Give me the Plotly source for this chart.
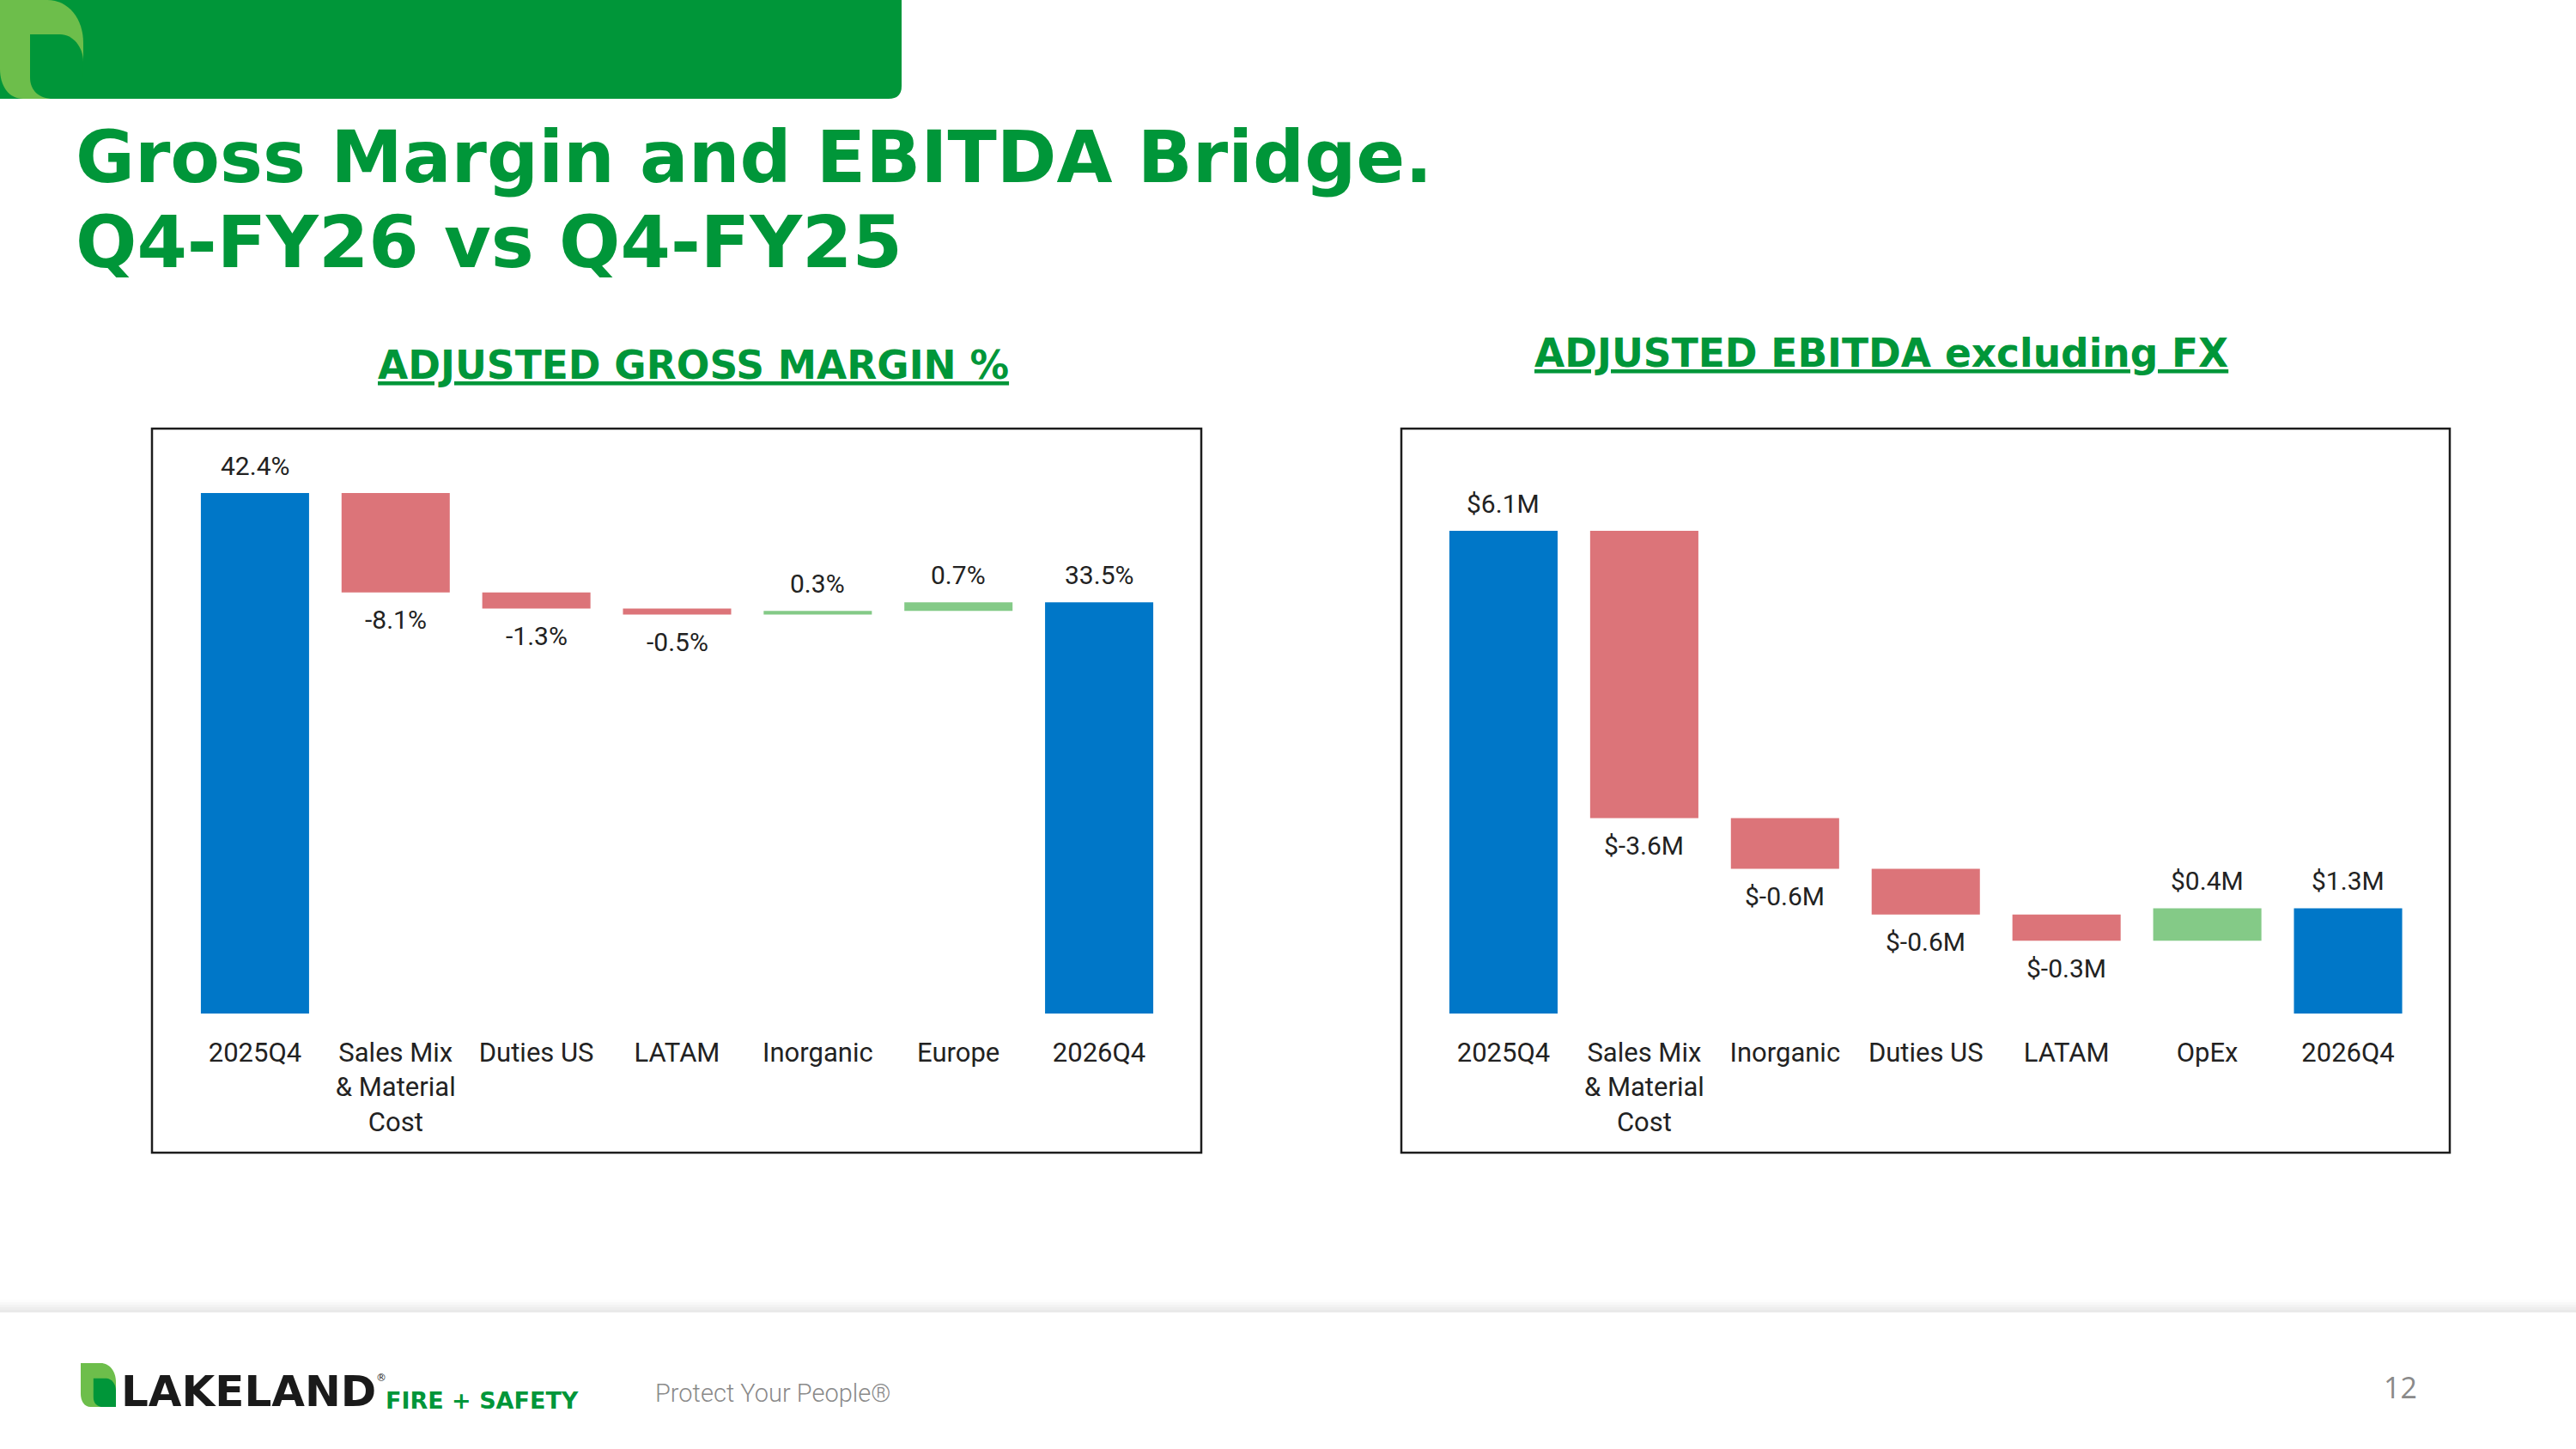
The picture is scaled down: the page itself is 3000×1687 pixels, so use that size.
import plotly.graph_objects as go

W, H = 3000, 1687

# ---------------- data ----------------
gm_categories = ["2025Q4", "Sales Mix<br>& Material<br>Cost", "Duties US", "LATAM",
                 "Inorganic", "Europe", "2026Q4"]
gm_measures = ["absolute", "relative", "relative", "relative", "relative", "relative", "total"]
gm_values = [42.4, -8.1, -1.3, -0.5, 0.3, 0.7, 0]

eb_categories = ["2025Q4", "Sales Mix<br>& Material<br>Cost", "Inorganic", "Duties US",
                 "LATAM", "OpEx", "2026Q4"]
eb_measures = ["absolute", "relative", "relative", "relative", "relative", "relative", "total"]
eb_values = [6.1, -3.63, -0.64, -0.58, -0.33, 0.41, 0]

BLUE = "#0077C8"
RED = "#DC7479"
GREEN = "#84CA87"
BRAND = "#009639"
LEAF = "#6DBE4B"
TXT = "#222222"
LABEL_FONT = "Roboto"


def px(x, y):
    return x / W, 1 - y / H


def path(cmds, sx=1.0, sy=1.0, ox=0.0, oy=0.0):
    out = []
    for c, pts in cmds:
        coords = []
        for (x, y) in pts:
            X, Y = px(ox + x * sx, oy + y * sy)
            coords.append(f"{X:.6f},{Y:.6f}")
        out.append(c + " " + " ".join(coords))
    return " ".join(out) + " Z"


def bar_ends(measures, values):
    run = 0.0
    res = []
    for m, v in zip(measures, values):
        if m == "absolute":
            s, e, lab = 0.0, v, v
            run = v
        elif m == "total":
            s, e, lab = 0.0, run, run
        else:
            s, e, lab = run, run + v, v
            run += v
        res.append((s, e, lab))
    return res


fig = go.Figure()

common = dict(
    connector=dict(visible=False),
    increasing=dict(marker=dict(color=GREEN)),
    decreasing=dict(marker=dict(color=RED)),
    totals=dict(marker=dict(color=BLUE)),
    textposition="none",
    hoverinfo="skip",
)

fig.add_trace(go.Waterfall(x=gm_categories, y=gm_values, measure=gm_measures,
                           xaxis="x", yaxis="y", **common))
fig.add_trace(go.Waterfall(x=eb_categories, y=eb_values, measure=eb_measures,
                           xaxis="x2", yaxis="y2", **common))

annotations = []

# value labels
for i, (s, e, lab) in enumerate(bar_ends(gm_measures, gm_values)):
    up = e >= s
    annotations.append(dict(x=i, y=e, xref="x", yref="y", text=f"{lab:.1f}%",
                            showarrow=False, yanchor="middle", yshift=32 if up else -32,
                            font=dict(family=LABEL_FONT, size=30, color=TXT)))
for i, (s, e, lab) in enumerate(bar_ends(eb_measures, eb_values)):
    up = e >= s
    annotations.append(dict(x=i, y=e, xref="x2", yref="y2", text=f"${lab:.1f}M",
                            showarrow=False, yanchor="middle", yshift=32 if up else -32,
                            font=dict(family=LABEL_FONT, size=30, color=TXT)))

# titles
tx, ty = px(86, 183)
annotations.append(dict(x=tx, y=ty, xref="paper", yref="paper", xanchor="left", yanchor="middle",
                        text="Gross Margin and EBITDA Bridge.", showarrow=False,
                        font=dict(family="DejaVu Sans", size=84, weight=700, color=BRAND)))
tx, ty = px(86, 282)
annotations.append(dict(x=tx, y=ty, xref="paper", yref="paper", xanchor="left", yanchor="middle",
                        text="Q4-FY26 vs Q4-FY25", showarrow=False,
                        font=dict(family="DejaVu Sans", size=84, weight=700, color=BRAND)))
tx, ty = px(808, 425)
annotations.append(dict(x=tx, y=ty, xref="paper", yref="paper", xanchor="center", yanchor="middle",
                        text="<u>ADJUSTED GROSS MARGIN %</u>", showarrow=False,
                        font=dict(family="DejaVu Sans", size=45.5, weight=700, color=BRAND)))
tx, ty = px(2191, 411)
annotations.append(dict(x=tx, y=ty, xref="paper", yref="paper", xanchor="center", yanchor="middle",
                        text="<u>ADJUSTED EBITDA excluding FX</u>", showarrow=False,
                        font=dict(family="DejaVu Sans", size=45.5, weight=700, color=BRAND)))

# footer texts
tx, ty = px(139, 1620)
annotations.append(dict(x=tx, y=ty, xref="paper", yref="paper", xanchor="left", yanchor="middle",
                        text="LAKELAND", showarrow=False,
                        font=dict(family="DejaVu Sans", size=50, weight=800, color="#1a1a1a")))
tx, ty = px(436, 1604)
annotations.append(dict(x=tx, y=ty, xref="paper", yref="paper", xanchor="left", yanchor="middle",
                        text="®", showarrow=False,
                        font=dict(family="DejaVu Sans", size=12, color="#1a1a1a")))
tx, ty = px(447, 1630)
annotations.append(dict(x=tx, y=ty, xref="paper", yref="paper", xanchor="left", yanchor="middle",
                        text="FIRE + SAFETY", showarrow=False,
                        font=dict(family="DejaVu Sans", size=27, weight=700, color=BRAND)))
tx, ty = px(761, 1622)
annotations.append(dict(x=tx, y=ty, xref="paper", yref="paper", xanchor="left", yanchor="middle",
                        text="Protect Your People®", showarrow=False,
                        font=dict(family="Roboto", size=29, weight=300, color="#8a8a8a")))
tx, ty = px(2795, 1615)
annotations.append(dict(x=tx, y=ty, xref="paper", yref="paper", xanchor="center", yanchor="middle",
                        text="12", showarrow=False,
                        font=dict(family="Open Sans", size=34, color="#8a8a8a")))

shapes = []

# header bar with rounded bottom-right corner
shapes.append(dict(type="path", xref="paper", yref="paper", line=dict(width=0), fillcolor=BRAND,
                   path=path([("M", [(0, 0)]), ("L", [(1050, 0)]), ("L", [(1050, 100)]),
                              ("Q", [(1050, 115), (1035, 115)]), ("L", [(0, 115)])])))

leaf_outer = [("M", [(0, 0)]), ("L", [(55, 0)]), ("C", [(80, 0), (97, 22), (97, 50)]),
              ("L", [(97, 115)]), ("L", [(27, 115)]), ("C", [(10, 115), (0, 100), (0, 80)])]
leaf_inner = [("M", [(35, 40)]), ("L", [(70, 40)]), ("C", [(85, 40), (97, 55), (97, 72)]),
              ("L", [(97, 115)]), ("L", [(62, 115)]), ("C", [(45, 115), (35, 105), (35, 90)])]

shapes.append(dict(type="path", xref="paper", yref="paper", line=dict(width=0), fillcolor=LEAF,
                   path=path(leaf_outer)))
shapes.append(dict(type="path", xref="paper", yref="paper", line=dict(width=0), fillcolor=BRAND,
                   path=path(leaf_inner)))

# footer leaf
fsx, fsy = 41 / 97, 51 / 115
shapes.append(dict(type="path", xref="paper", yref="paper", line=dict(width=0), fillcolor=LEAF,
                   path=path(leaf_outer, fsx, fsy, 94, 1587)))
shapes.append(dict(type="path", xref="paper", yref="paper", line=dict(width=0), fillcolor=BRAND,
                   path=path(leaf_inner, fsx, fsy, 94, 1587)))

# chart frames
for (x0, x1) in [(177, 1399), (1632, 2853)]:
    X0, Y1 = px(x0, 499)
    X1, Y0 = px(x1, 1342)
    shapes.append(dict(type="rect", xref="paper", yref="paper", x0=X0, x1=X1, y0=Y0, y1=Y1,
                       line=dict(color="#1c1c1c", width=2.5), fillcolor="rgba(0,0,0,0)"))

# footer shadow band
shade = ["#fdfdfd", "#f8f8f8", "#f3f3f3", "#eeeeee", "#e9e9e9"]
for k, c in enumerate(shade):
    X0, Y1 = px(0, 1513 + k * 3)
    X1, Y0 = px(W, 1516 + k * 3)
    shapes.append(dict(type="rect", xref="paper", yref="paper", x0=X0, x1=X1, y0=Y0, y1=Y1,
                       line=dict(width=0), fillcolor=c, layer="below"))

ydom = [1 - 1180 / H, 1 - 499 / H]
xaxis_common = dict(showgrid=False, zeroline=False, showline=False, ticks="",
                    tickfont=dict(family=LABEL_FONT, size=31, color=TXT),
                    range=[-0.5, 6.5], fixedrange=True, ticklabelstandoff=24)

fig.update_layout(
    width=W, height=H, margin=dict(l=0, r=0, t=0, b=0),
    paper_bgcolor="white", plot_bgcolor="rgba(0,0,0,0)",
    showlegend=False, waterfallgap=0.231,
    xaxis=dict(domain=[215 / W, 1362 / W], anchor="y", **xaxis_common),
    yaxis=dict(domain=ydom, range=[0, (1180 - 499) / 14.29], visible=False, fixedrange=True),
    xaxis2=dict(domain=[1669 / W, 2816.5 / W], anchor="y2", **xaxis_common),
    yaxis2=dict(domain=ydom, range=[0, (1180 - 499) / 92.13], visible=False, fixedrange=True),
    annotations=annotations,
    shapes=shapes,
)

fig.write_html("out.html")
